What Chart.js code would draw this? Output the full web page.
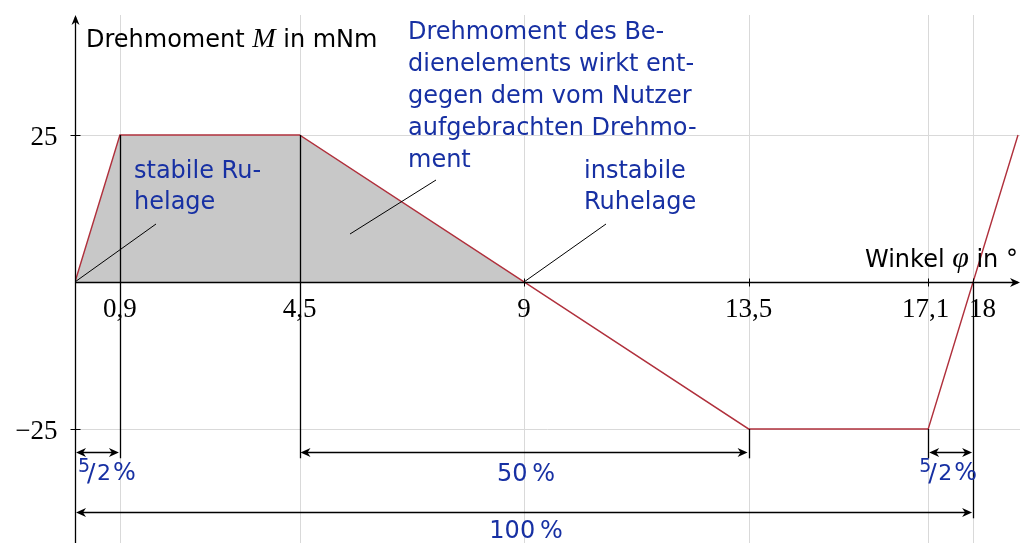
<!DOCTYPE html>
<html>
<head>
<meta charset="utf-8">
<script src="https://cdn.jsdelivr.net/npm/chart.js@4/dist/chart.umd.min.js"></script>
<style>
  html, body { margin: 0; padding: 0; background: #fff; }
  #wrap { width: 1023px; height: 543px; position: relative; }
</style>
</head>
<body>
<div id="wrap"><canvas id="torque"></canvas></div>
<script>
// torque curve of the control element over the rotation angle
var angles  = [0, 0.9, 4.5, 9, 13.5, 17.1, 18, 18.9];
var torques = [0, 25, 25, 0, -25, -25, 0, 25];

// shaded part (element pushes against the user)
var shadeAngles  = [0, 0.9, 4.5, 9];
var shadeTorques = [0, 25, 25, 0];

var xTicks = [0.9, 4.5, 9, 13.5, 17.1, 18];
var xTickLabels = ['0,9', '4,5', '9', '13,5', '17,1', '18'];
var yTicks = [25, -25];
var yTickLabels = ['25', '\u221225'];

// dimension arrows: [from, to, row, label]
var spans = [
  [0, 0.9, -28.9, 'frac'],
  [4.5, 13.5, -28.9, '50\u2009%'],
  [17.1, 18, -28.9, 'frac'],
  [0, 18, -39.1, '100\u2009%']
];

var RED = '#b0303c';
var BLUE = '#1730a3';
var GRID = '#d9d9d9';
var SANS = '"DejaVu Sans", sans-serif';
var SERIF = '"Liberation Serif", "DejaVu Serif", serif';

function toPts(xs, ys) {
  return xs.map(function (x, i) { return { x: x, y: ys[i] }; });
}

function arrowHead(ctx, x, y, dir) {
  // dir: 1 -> pointing right, -1 -> left, 'up'
  ctx.beginPath();
  if (dir === 'up') {
    ctx.moveTo(x, y);
    ctx.lineTo(x - 4, y + 10);
    ctx.lineTo(x, y + 7);
    ctx.lineTo(x + 4, y + 10);
  } else {
    ctx.moveTo(x, y);
    ctx.lineTo(x - dir * 10, y - 4.5);
    ctx.lineTo(x - dir * 7, y);
    ctx.lineTo(x - dir * 10, y + 4.5);
  }
  ctx.closePath();
  ctx.fill();
}

function line(ctx, x1, y1, x2, y2) {
  ctx.beginPath();
  ctx.moveTo(x1, y1);
  ctx.lineTo(x2, y2);
  ctx.stroke();
}

var gridPlugin = {
  id: 'grid',
  beforeDatasetsDraw: function (chart) {
    var ctx = chart.ctx, xs = chart.scales.x, ys = chart.scales.y, a = chart.chartArea;
    ctx.save();
    ctx.strokeStyle = GRID;
    ctx.lineWidth = 1;
    xTicks.forEach(function (v) {
      var px = Math.round(xs.getPixelForValue(v)) + 0.5;
      line(ctx, px, a.top, px, a.bottom);
    });
    yTicks.forEach(function (v) {
      var py = Math.round(ys.getPixelForValue(v)) + 0.5;
      line(ctx, a.left, py, a.right, py);
    });
    ctx.restore();
  }
};

function drawFrac(ctx, x, y) {
  // "5/2 %" with a raised numerator
  ctx.textAlign = 'left';
  ctx.font = '19px ' + SANS;
  ctx.fillText('5', x, y - 8);
  ctx.font = '25px ' + SANS;
  ctx.fillText('/', x + 9, y + 1);
  ctx.font = '22px ' + SANS;
  ctx.fillText('2', x + 19, y);
  ctx.font = '24px ' + SANS;
  ctx.fillText('%', x + 35, y);
}

var annoPlugin = {
  id: 'anno',
  afterDatasetsDraw: function (chart) {
    var ctx = chart.ctx, xs = chart.scales.x, ys = chart.scales.y, a = chart.chartArea;
    var X = function (v) { return xs.getPixelForValue(v); };
    var Y = function (v) { return ys.getPixelForValue(v); };
    var x0 = Math.round(X(0)) + 0.5, y0 = Math.round(Y(0)) + 0.5;
    ctx.save();
    ctx.strokeStyle = '#000';
    ctx.fillStyle = '#000';
    ctx.lineWidth = 1.3;

    // extension lines down to the dimension arrows
    [[0.9, 25, -30], [4.5, 25, -30], [13.5, -25, -30], [17.1, -25, -30], [18, 0, -40.2]].forEach(function (e) {
      var px = Math.round(X(e[0])) + 0.5;
      line(ctx, px, Y(e[1]), px, Y(e[2]));
    });

    // axes
    line(ctx, x0, a.bottom, x0, a.top + 2);
    arrowHead(ctx, x0, a.top, 'up');
    line(ctx, a.left, y0, a.right - 2, y0);
    arrowHead(ctx, a.right, y0, 1);

    // tick marks
    ctx.lineWidth = 1;
    xTicks.forEach(function (v) {
      var px = Math.round(X(v)) + 0.5;
      line(ctx, px, y0 - 4, px, y0 + 4);
    });
    yTicks.forEach(function (v) {
      var py = Math.round(Y(v)) + 0.5;
      line(ctx, x0 - 5, py, x0 + 5, py);
    });

    // tick labels
    ctx.font = '27px ' + SERIF;
    ctx.textBaseline = 'alphabetic';
    xTickLabels.forEach(function (t, i) {
      var px = X(xTicks[i]);
      if (t === '17,1') { ctx.textAlign = 'right'; px += 21; }
      else if (t === '18') { ctx.textAlign = 'left'; px -= 4; }
      else ctx.textAlign = 'center';
      ctx.fillText(t, px, y0 + 34);
    });
    ctx.textAlign = 'right';
    yTickLabels.forEach(function (t, i) {
      ctx.fillText(t, x0 - 18, Y(yTicks[i]) + 10);
    });

    // dimension arrows
    ctx.lineWidth = 1.3;
    spans.forEach(function (s) {
      var xa = X(s[0]) + 1, xb = X(s[1]) - 1, py = Math.round(Y(s[2])) + 0.5;
      line(ctx, xa + 4, py, xb - 4, py);
      arrowHead(ctx, xa, py, -1);
      arrowHead(ctx, xb, py, 1);
    });
    ctx.fillStyle = BLUE;
    drawFrac(ctx, X(0) + 3, Y(-28.9) + 28);
    drawFrac(ctx, X(17.1) - 9, Y(-28.9) + 28);
    ctx.textAlign = 'center';
    ctx.font = '24px ' + SANS;
    ctx.fillText(spans[1][3], (X(4.5) + X(13.5)) / 2 + 2, Y(-28.9) + 29);
    ctx.fillText(spans[3][3], (X(0) + X(18)) / 2 + 2, Y(-39.1) + 26);

    // axis titles
    ctx.fillStyle = '#000';
    ctx.textAlign = 'left';
    var tx = 86, ty = 47;
    ctx.font = '24px ' + SANS;
    ctx.fillText('Drehmoment ', tx, ty);
    tx += ctx.measureText('Drehmoment ').width;
    ctx.font = 'italic 28px ' + SERIF;
    ctx.fillText('M', tx, ty);
    tx += ctx.measureText('M').width;
    ctx.font = '24px ' + SANS;
    ctx.fillText(' in mNm', tx, ty);

    tx = 865; ty = 267;
    ctx.fillText('Winkel ', tx, ty);
    tx += ctx.measureText('Winkel ').width;
    ctx.font = 'italic 30px ' + SERIF;
    ctx.fillText('\u03c6', tx, ty);
    tx += ctx.measureText('\u03c6').width;
    ctx.font = '24px ' + SANS;
    ctx.fillText(' in \u00b0', tx, ty);

    // leader lines
    ctx.strokeStyle = '#000';
    ctx.lineWidth = 1;
    line(ctx, X(0), Y(0), 156, 224);
    line(ctx, X(9), Y(0), 606, 224);
    line(ctx, 350, 234, 436, 180);

    // blue notes
    ctx.fillStyle = BLUE;
    ctx.font = '24px ' + SANS;
    ['Drehmoment des Be-', 'dienelements wirkt ent-', 'gegen dem vom Nutzer',
     'aufgebrachten Drehmo-', 'ment'].forEach(function (t, i) {
      ctx.fillText(t, 408, 39 + i * 32);
    });
    ctx.fillText('stabile Ru-', 134, 178);
    ctx.fillText('helage', 134, 209);
    ctx.fillText('instabile', 584, 178);
    ctx.fillText('Ruhelage', 584, 209);
    ctx.restore();
  }
};

new Chart(document.getElementById('torque'), {
  type: 'line',
  data: {
    datasets: [{
      data: toPts(shadeAngles, shadeTorques),
      borderWidth: 0,
      backgroundColor: '#c8c8c8',
      fill: 'origin',
      pointRadius: 0,
      order: 2
    }, {
      data: toPts(angles, torques),
      borderColor: RED,
      borderWidth: 1.4,
      fill: false,
      pointRadius: 0,
      order: 1
    }]
  },
  options: {
    responsive: true,
    maintainAspectRatio: false,
    animation: false,
    layout: { padding: { left: 75, right: 3, top: 15, bottom: 0 } },
    plugins: { legend: { display: false }, tooltip: { enabled: false } },
    scales: {
      x: { type: 'linear', min: 0, max: 18.94, display: false },
      y: { type: 'linear', min: -44.4, max: 45.4, display: false }
    }
  },
  plugins: [gridPlugin, annoPlugin]
});
</script>
</body>
</html>
